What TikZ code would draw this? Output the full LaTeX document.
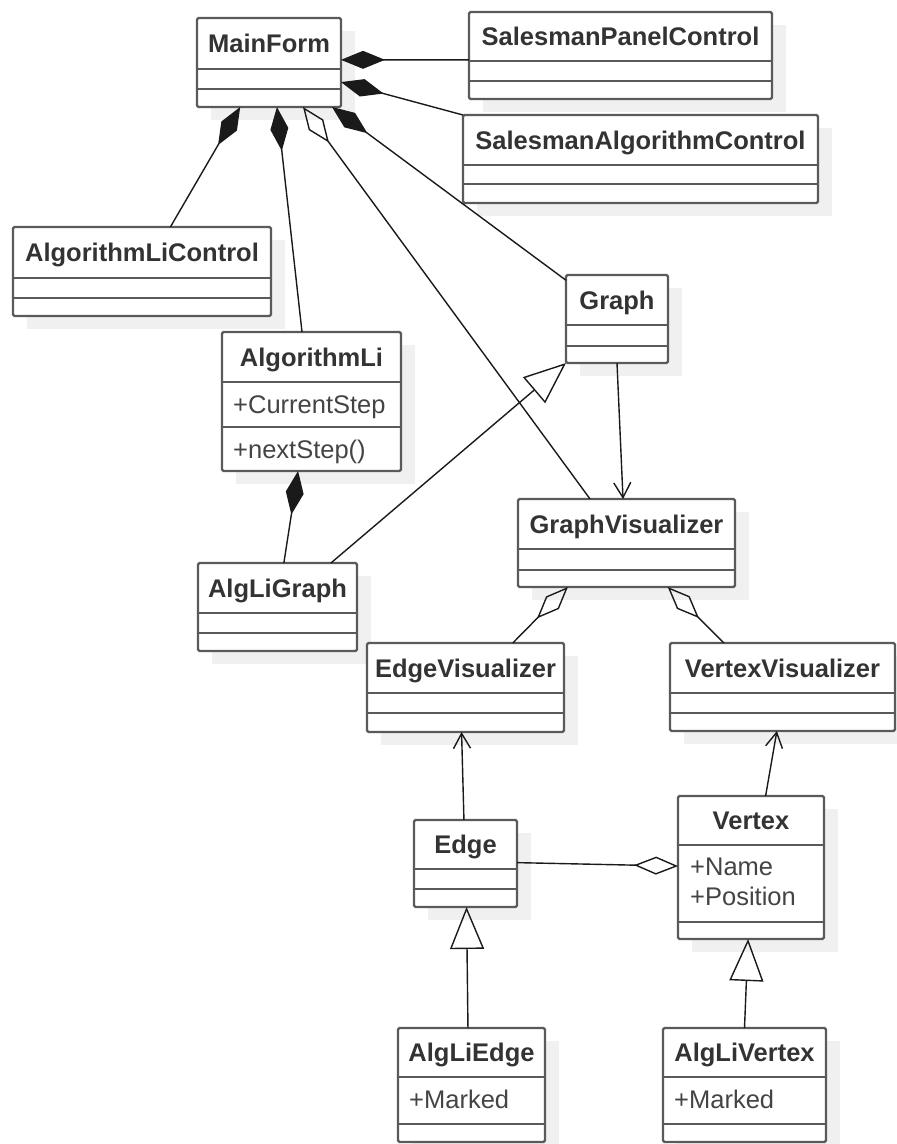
\documentclass[tikz,border=0pt]{standalone}
\usepackage{fontspec}
\setmainfont{Liberation Sans}
\usetikzlibrary{arrows.meta,calc}
\pgfdeclarelayer{back}
\pgfdeclarelayer{bg}
\pgfsetlayers{back,bg,main}
\definecolor{boxc}{HTML}{5A5A5A}
\definecolor{shadowc}{HTML}{F0F0F0}
\definecolor{titlec}{HTML}{333333}
\definecolor{attrc}{HTML}{444444}
\definecolor{connc}{HTML}{1A1A1A}
\tikzset{
  classbox/.style={draw=boxc, line width=2.2pt, rounded corners=1.5pt, fill=white, inner sep=0pt, outer sep=0pt},
  boxline/.style={draw=boxc, line width=2.2pt},
  titletext/.style={text=titlec, font=\bfseries\fontsize{25.5}{30}\selectfont, inner sep=0pt},
  attrtext/.style={text=attrc, font=\fontsize{25.5}{30}\selectfont, inner sep=0pt},
  conn/.style={draw=connc, line width=1.4pt},
  comp/.style={arrows={Diamond[length=44pt,width=18pt]-}},
  aggr/.style={arrows={Diamond[open,length=44pt,width=18pt]-}},
  gen/.style={arrows={-Triangle[open,length=42pt,width=34pt]}},
  nav/.style={arrows={-Straight Barb[length=15pt,width=17pt]}},
}
\newcommand{\umlclass}[8]{%
  \begin{pgfonlayer}{bg}\fill[shadowc] (#2+14,#3+13) rectangle (#4+14,#5+13);\end{pgfonlayer}
  \node[classbox, minimum width={(#4-#2)*1pt}, minimum height={(#5-#3)*1pt}, anchor=north west] (#1) at (#2,#3) {};
  \draw[boxline] (#2,#6) -- (#4,#6);
  \draw[boxline] (#2,#7) -- (#4,#7);
  \node[titletext, anchor=base] (#1-title) at ({(#2+#4)/2},{(#3+#6)/2+9}) {#8};
}
\begin{document}
\begin{tikzpicture}[x=1pt,y=-1pt]
\begin{pgfonlayer}{back}
\fill[white] (0,0) rectangle (897,1144);
\end{pgfonlayer}
\useasboundingbox (0,0) rectangle (897,1144);
\umlclass{mainform}{197}{18}{341}{107}{69}{89}{MainForm}
\umlclass{spc}{469}{12}{772}{99}{61}{81}{SalesmanPanelControl}
\umlclass{sac}{463}{115}{818}{203}{165}{184}{SalesmanAlgorithmControl}
\umlclass{alc}{13}{227}{271}{316}{278}{298}{AlgorithmLiControl}
\umlclass{algli}{222}{332}{401}{471}{382}{427}{AlgorithmLi}
\umlclass{alggraph}{198}{563}{357}{651}{613}{633}{AlgLiGraph}
\umlclass{graph}{566}{275}{668}{363}{325}{346}{Graph}
\umlclass{gv}{518}{499}{735}{587}{549}{570}{GraphVisualizer}
\umlclass{ev}{367}{643}{564}{732}{693}{713}{EdgeVisualizer}
\umlclass{vv}{670}{643}{895}{731}{693}{713}{VertexVisualizer}
\umlclass{edge}{414}{820}{517}{907}{869}{889}{Edge}
\umlclass{vertex}{678}{796}{824}{939}{845}{922}{Vertex}
\umlclass{algedge}{398}{1028}{545}{1142}{1077}{1124}{AlgLiEdge}
\umlclass{algvertex}{663}{1028}{826}{1142}{1077}{1124}{AlgLiVertex}
% attributes and operations
\node[attrtext, anchor=base west] (algli-a1) at (233,413) {+CurrentStep};
\node[attrtext, anchor=base west] (algli-m1) at (233,458) {+nextStep()};
\node[attrtext, anchor=base west] (vertex-a1) at (690,875) {+Name};
\node[attrtext, anchor=base west] (vertex-a2) at (690,905) {+Position};
\node[attrtext, anchor=base west] (algedge-a1) at (409,1108) {+Marked};
\node[attrtext, anchor=base west] (algvertex-a1) at (674,1108) {+Marked};
% connectors from MainForm
\draw[conn,comp] ($(mainform.north east)!0.47!(mainform.south east)$) -- ($(spc.north west)!0.55!(spc.south west)$);
\draw[conn,comp] ($(mainform.north east)!0.72!(mainform.south east)$) -- (sac.north west);
\draw[conn,comp] ($(mainform.south west)!0.30!(mainform.south east)$) -- ($(alc.north west)!0.61!(alc.north east)$);
\draw[conn,comp] ($(mainform.south west)!0.555!(mainform.south east)$) -- ($(algli.north west)!0.447!(algli.north east)$);
\draw[conn,aggr] ($(mainform.south west)!0.736!(mainform.south east)$) -- ($(gv.north west)!0.332!(gv.north east)$);
\draw[conn,comp] ($(mainform.south west)!0.9375!(mainform.south east)$) -- ($(graph.north west)!0.06!(graph.south west)$);
% AlgorithmLi - AlgLiGraph
\draw[conn,comp] ($(algli.south west)!0.425!(algli.south east)$) -- ($(alggraph.north west)!0.54!(alggraph.north east)$);
% AlgLiGraph - Graph
\draw[conn,gen] ($(alggraph.north west)!0.836!(alggraph.north east)$) -- (graph.south west);
% Graph -> GraphVisualizer
\draw[conn,nav] (graph.south) -- ($(gv.north west)!0.484!(gv.north east)$);
% GraphVisualizer aggregations
\draw[conn,aggr] ($(gv.south west)!0.23!(gv.south east)$) -- ($(ev.north west)!0.74!(ev.north east)$);
\draw[conn,aggr] ($(gv.south west)!0.69!(gv.south east)$) -- ($(vv.north west)!0.24!(vv.north east)$);
% Edge -> EdgeVisualizer, Vertex -> VertexVisualizer
\draw[conn,nav] ($(edge.north west)!0.485!(edge.north east)$) -- ($(ev.south west)!0.48!(ev.south east)$);
\draw[conn,nav] ($(vertex.north west)!0.6!(vertex.north east)$) -- ($(vv.south west)!0.475!(vv.south east)$);
% Edge - Vertex
\draw[conn,aggr] ($(vertex.north west)!0.49!(vertex.south west)$) -- ($(edge.north east)!0.49!(edge.south east)$);
% generalizations at bottom
\draw[conn,gen] ($(algedge.north west)!0.476!(algedge.north east)$) -- ($(edge.south west)!0.51!(edge.south east)$);
\draw[conn,gen] ($(algvertex.north west)!0.5!(algvertex.north east)$) -- ($(vertex.south west)!0.48!(vertex.south east)$);
\end{tikzpicture}
\end{document}
